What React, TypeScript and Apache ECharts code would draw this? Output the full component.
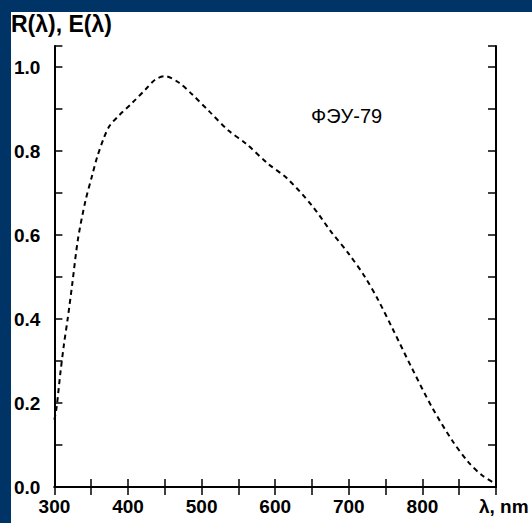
import React, { useEffect, useRef } from "react";
import * as echarts from "echarts";

const wavelengths = [300, 303, 308, 313, 318, 324, 332, 342, 351, 358, 367, 375, 388, 406, 424, 437, 450, 469, 487, 510, 537, 560, 590, 616, 650, 675, 700, 722, 740, 760, 786, 813, 840, 863, 881, 899];
const response = [0.16, 0.19, 0.27, 0.34, 0.4, 0.48, 0.59, 0.68, 0.74, 0.785, 0.83, 0.86, 0.885, 0.915, 0.947, 0.97, 0.978, 0.963, 0.935, 0.895, 0.848, 0.818, 0.77, 0.735, 0.67, 0.61, 0.555, 0.5, 0.445, 0.375, 0.282, 0.19, 0.112, 0.058, 0.028, 0.008];
const xTickLabels = [300, 400, 500, 600, 700, 800];
const yTickLabels = ["0.0", "0.2", "0.4", "0.6", "0.8", "1.0"];
const yTitle = "R(λ), E(λ)";
const xTitle = "λ, nm";
const seriesName = "ФЭУ-79";

export default function App() {
  const ref = useRef<HTMLDivElement>(null);
  useEffect(() => {
    if (!ref.current) return;
    const chart = echarts.init(ref.current, null, { renderer: "svg" });
    const font = "'Liberation Sans', Arial, Helvetica, sans-serif";
    const axisLine = { show: true, lineStyle: { color: "#000", width: 2 } };
    const axisTick = { show: true, inside: true, length: 8, lineStyle: { color: "#000", width: 1.5 } };
    const xLabel = (v: number) => (xTickLabels.includes(Math.round(v)) ? String(Math.round(v)) : "");
    const yLabel = (v: number) => {
      const s = v.toFixed(1);
      return Math.abs(v - parseFloat(s)) < 1e-6 && yTickLabels.includes(s) ? s : "";
    };
    chart.setOption({
      animation: false,
      backgroundColor: "#ffffff",
      grid: { left: 41, top: 34, width: 444, height: 441 },
      xAxis: [
        {
          type: "value", min: 300, max: 900, interval: 50, position: "bottom",
          axisLine, axisTick, splitLine: { show: false },
          axisLabel: { formatter: xLabel, color: "#000", fontFamily: font, fontWeight: "bold", fontSize: 19, margin: 10, showMaxLabel: false },
        },
        {
          type: "value", min: 300, max: 900, interval: 50, position: "top",
          axisLine, axisTick, splitLine: { show: false }, axisLabel: { show: false },
        },
      ],
      yAxis: [
        {
          type: "value", min: 0, max: 1.05, interval: 0.1, position: "left",
          axisLine, axisTick, splitLine: { show: false },
          axisLabel: { formatter: yLabel, color: "#000", fontFamily: font, fontWeight: "bold", fontSize: 19, margin: 14 },
        },
        {
          type: "value", min: 0, max: 1.05, interval: 0.1, position: "right",
          axisLine, axisTick, splitLine: { show: false }, axisLabel: { show: false },
        },
      ],
      graphic: [
        { type: "text", left: 0, top: 0, style: { text: yTitle, fill: "#000", font: `bold 23px ${font}` } },
        { type: "text", left: 468, top: 485, style: { text: xTitle, fill: "#000", font: `bold 19px ${font}` } },
        { type: "text", left: 300, top: 94, style: { text: seriesName, fill: "#000", font: `20px ${font}` } },
      ],
      series: [
        {
          type: "line",
          name: seriesName,
          data: wavelengths.map((w, i) => [w, response[i]]),
          smooth: 0.3,
          symbol: "none",
          lineStyle: { color: "#000", width: 2, type: [5, 4] },
        },
      ],
    });
    return () => chart.dispose();
  }, []);
  return (
    <div style={{ position: "fixed", left: 0, top: 0, width: 532, height: 523, background: "#003366", overflow: "hidden" }}>
      <div ref={ref} style={{ position: "absolute", left: 11, top: 12, width: 521, height: 511 }} />
    </div>
  );
}
